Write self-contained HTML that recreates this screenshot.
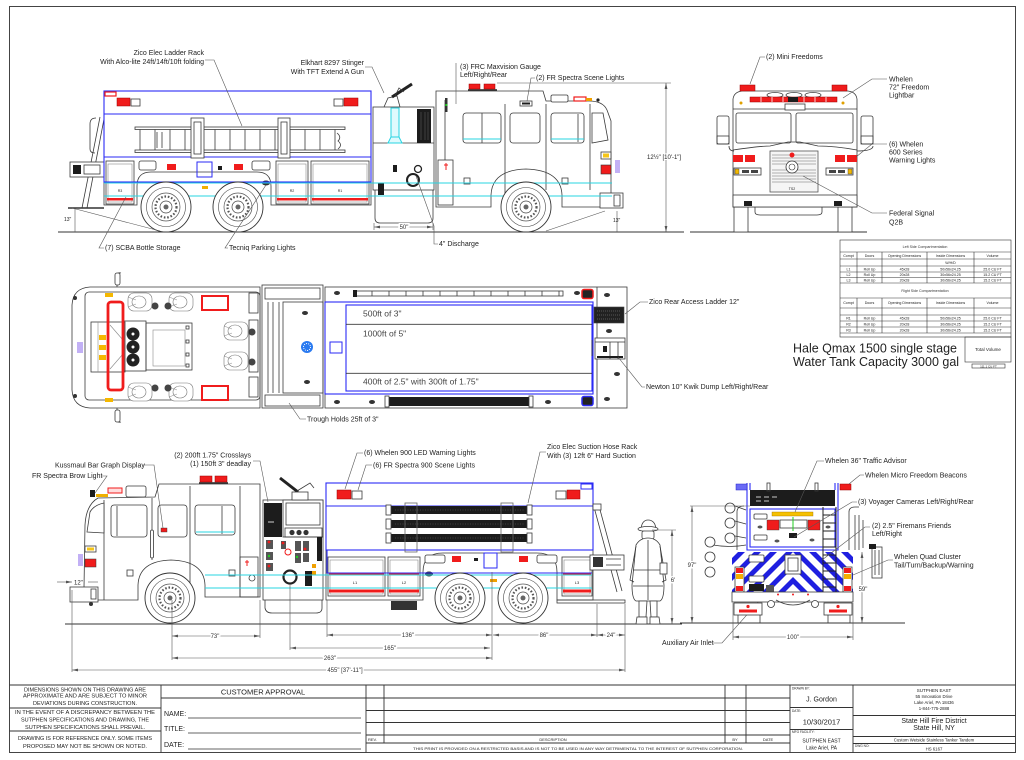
<!DOCTYPE html>
<html><head><meta charset="utf-8"><title>Custom Wetside Stainless Tanker Tandem</title>
<style>
html,body{margin:0;padding:0;background:#fff}
svg{display:block}
text{font-family:"Liberation Sans",Arial,sans-serif;fill:#222}
.k{fill:none;stroke:#3a3a3a;stroke-width:.8}
.w{fill:#fff;stroke:#3a3a3a;stroke-width:.8}
.g{fill:none;stroke:#8a8a8a;stroke-width:.6}
.bl{fill:none;stroke:#2a2af5;stroke-width:1.1}
.cy{fill:none;stroke:#27d4e2;stroke-width:1}
.ld{fill:none;stroke:#555;stroke-width:.6}
.dl{fill:none;stroke:#555;stroke-width:.6;marker-start:url(#ar);marker-end:url(#ar)}
.rd{fill:#f01c1c}
.rs{fill:none;stroke:#f01c1c;stroke-width:1.2}
.t{font-size:7px}
.bt{font-size:8.5px;fill:#444}
.dt{font-size:6px;fill:#333;paint-order:stroke;stroke:#fff;stroke-width:3px;text-anchor:middle}
.s{font-size:3.6px;fill:#333;text-anchor:middle}
.bk{fill:#1c1c1c}
.tb{font-size:5px;fill:#333;text-anchor:middle}
</style></head><body>
<svg width="1024" height="760" viewBox="0 0 1024 760" xmlns="http://www.w3.org/2000/svg" xmlns:xlink="http://www.w3.org/1999/xlink">
<defs>
<marker id="ar" markerWidth="6" markerHeight="4" refX="6" refY="2" orient="auto-start-reverse" markerUnits="userSpaceOnUse"><path d="M0,0.6 L6,2 L0,3.4 Z" fill="#555"/></marker>
<g id="wh"><circle r="25" fill="#fff" stroke="#333" stroke-width=".9"/><circle r="19.5" fill="none" stroke="#444" stroke-width=".6"/><circle r="14" fill="none" stroke="#555" stroke-width=".7"/><circle r="10.5" fill="none" stroke="#555" stroke-width="2.2" stroke-dasharray="1.6 1.8"/><circle r="6" fill="#fff" stroke="#444" stroke-width=".7"/><circle r="2.5" fill="#666"/></g>
<g id="st"><rect x="-12" y="-9" width="24" height="18" rx="6" fill="#fff" stroke="#777" stroke-width=".6"/><ellipse cx="-1" cy="0" rx="7" ry="6" fill="none" stroke="#777" stroke-width=".6"/><path d="M-12,-5 L-4,-2 M-12,5 L-4,2" stroke="#888" stroke-width=".5"/></g>
<clipPath id="cp"><rect x="732" y="552" width="121" height="40"/></clipPath>
</defs>

<!-- frame -->
<rect x="9.5" y="6.5" width="1006" height="746" fill="none" stroke="#444" stroke-width="1"/>

<!-- ================= TOP SIDE VIEW ================= -->
<line x1="58" y1="232" x2="684" y2="232" stroke="#333" stroke-width=".9"/>
<path class="k" d="M100,117 L82,208 M104,119 L87,208"/>
<path class="k" d="M96,118 Q90,118 90,124 V149 Q90,153 95,153"/>
<rect class="w" x="70" y="162" width="34" height="15"/>
<rect class="bk" x="73" y="165" width="8" height="9"/>
<rect class="k" x="84" y="165" width="16" height="9"/>
<line x1="68" y1="208" x2="104" y2="208" stroke="#333" stroke-width="1.6"/>

<rect class="w" x="104" y="91" width="267" height="66"/>
<path class="w" d="M104,157 V205 H137 V186 Q137,172 151,172 H257 Q271,172 271,186 V205 H371 V157 Z"/>
<rect class="w" x="106" y="161" width="28" height="43"/><rect class="g" x="108" y="164" width="24" height="38"/>
<rect class="w" x="276" y="161" width="32" height="43"/><rect class="g" x="278" y="164" width="28" height="38"/>
<rect class="w" x="311" y="161" width="58" height="43"/><rect class="g" x="313" y="164" width="54" height="38"/>
<rect class="rd" x="107" y="181.5" width="26" height="2"/><rect class="rd" x="107" y="198" width="26" height="2.5"/>
<rect class="rd" x="277" y="181.5" width="30" height="2"/><rect class="rd" x="277" y="198" width="30" height="2.5"/>
<rect class="rd" x="312" y="181.5" width="56" height="2"/><rect class="rd" x="312" y="198" width="56" height="2.5"/>
<text x="120" y="192" font-size="3.6" fill="#f01c1c" text-anchor="middle">R3</text>
<text x="292" y="192" font-size="3.6" fill="#f01c1c" text-anchor="middle">R2</text>
<text x="340" y="192" font-size="3.6" fill="#f01c1c" text-anchor="middle">R1</text>
<rect class="w" x="139" y="161" width="17" height="9" rx="2"/>
<rect class="rd" x="167" y="164" width="9" height="6"/>
<rect x="197" y="162" width="15" height="15" fill="none" stroke="#2a2af5" stroke-width="1"/>
<rect class="bk" x="218" y="166" width="4" height="4"/>
<rect class="rd" x="234" y="164" width="9" height="6"/>
<rect class="w" x="252" y="161" width="18" height="9" rx="2"/>
<rect x="202" y="186" width="6" height="3" fill="#f0b000"/>
<ellipse cx="266" cy="183" rx="4" ry="2.5" fill="#333"/>
<!-- tank blue -->
<rect class="bl" x="104" y="91" width="267" height="91"/>
<line class="bl" x1="104" y1="114" x2="371" y2="114"/>
<line class="bl" x1="104" y1="157" x2="371" y2="157"/>
<!-- tank lights -->
<rect x="105" y="92" width="11" height="4" class="rs"/>
<rect class="rd" x="117" y="98" width="13" height="8" stroke="#900" stroke-width=".5"/>
<rect class="w" x="131" y="99" width="9" height="7"/>
<rect class="w" x="334" y="99" width="9" height="7"/>
<rect class="rd" x="344" y="98" width="14" height="8" stroke="#900" stroke-width=".5"/>
<!-- ladder -->
<rect class="w" x="135" y="127" width="210" height="2.5"/>
<rect class="w" x="135" y="150" width="210" height="2.5"/>
<path class="k" d="M140,129.5V150M155,129.5V150M170,129.5V150M185,129.5V150M200,129.5V150M215,129.5V150M230,129.5V150M245,129.5V150M260,129.5V150M275,129.5V150M290,129.5V150M305,129.5V150M320,129.5V150M335,129.5V150"/>
<path class="k" d="M157,132 V148 M162,132 V148" stroke-width="1.4"/>
<path class="k" d="M337,133 Q342,137 338,141 Q343,145 338,149"/>
<rect class="w" x="191" y="118" width="13" height="40"/><rect class="k" x="194" y="122" width="7" height="32"/>
<rect class="w" x="278" y="118" width="12" height="40"/><rect class="k" x="281" y="122" width="6" height="32"/>
<!-- pump section -->
<rect class="w" x="373" y="107" width="61" height="83"/>
<line class="k" x1="373" y1="143" x2="434" y2="143"/>
<path class="k" d="M375,190 V218 Q375,223 380,223 H428 Q433,223 433,218 V190"/>
<rect x="391" y="108" width="8" height="30" fill="#dffafd" stroke="#27d4e2" stroke-width="1"/>
<path d="M388,143 L391,137 H399 L402,143 Z" fill="#dffafd" stroke="#27d4e2" stroke-width="1"/>
<rect class="bk" x="417" y="109" width="14" height="34"/>
<path d="M421,112V140M425,112V140M428,112V140" stroke="#666" stroke-width=".5"/>
<rect class="bk" x="393" y="165" width="4" height="7"/>
<circle cx="413" cy="180" r="6" fill="#fff" stroke="#222" stroke-width="2"/>
<circle cx="418" cy="169" r="3.5" fill="#fff" stroke="#222" stroke-width="1.3"/>
<rect class="bk" x="378" y="183" width="6" height="12"/>
<path d="M384,107 L388,98 L397,96 L400,107" class="k" stroke-width="1.2"/>
<line x1="392" y1="97" x2="412" y2="84" stroke="#222" stroke-width="3"/>
<path d="M395,96 L399,88 L404,92" class="k" stroke-width="1.2"/>
<!-- cab -->
<path class="w" d="M436,91 H543 L546,101 H589 Q603,101 607,110 L611,121 V207 H562 V195 Q561,170 526,169 Q492,170 491,195 V207 H436 Z"/>
<path class="k" d="M445,100 V205 M505,104 V205 M546,104 V190 M590,104 V190"/>
<rect class="w" x="463" y="113" width="38" height="30" rx="3"/><line class="k" x1="482" y1="113" x2="482" y2="143"/>
<rect class="w" x="510" y="113" width="30" height="30" rx="3"/>
<rect class="w" x="551" y="113" width="33" height="30" rx="3"/><line class="k" x1="578" y1="114" x2="578" y2="142"/>
<path class="w" d="M592,113 H603 L608,140 L592,143 Z"/>
<path class="cy" d="M463,139 H501 M551,139 H584"/>
<rect class="w" x="438" y="160" width="15" height="45"/>
<path d="M446,163 V170 M444,165 H448" stroke="#f01c1c" stroke-width="1"/>
<rect class="w" x="464" y="178" width="6" height="6"/>
<rect class="w" x="562" y="178" width="6" height="6"/>
<rect x="445" y="98" width="2.5" height="14" fill="#333"/><rect x="445.3" y="104" width="2" height="2" fill="#2c2"/>
<rect class="w" x="520" y="101" width="12" height="5"/><rect class="bk" x="522" y="102.5" width="8" height="2"/>
<path d="M468,90 H497" stroke="#222" stroke-width="1.5"/>
<rect class="rd" x="469" y="84" width="11" height="5" stroke="#900" stroke-width=".5"/>
<rect class="rd" x="484" y="84" width="11" height="5" stroke="#900" stroke-width=".5"/>
<rect class="w" x="551" y="95" width="17" height="7" rx="1.5"/>
<rect x="574" y="97" width="12" height="4" class="rs"/>
<rect x="586" y="98" width="6" height="3" fill="#f0a000"/>
<circle cx="598" cy="100" r="1.6" fill="#222"/>
<rect class="w" x="601" y="152" width="10" height="7"/><rect x="603" y="153.5" width="6" height="4" fill="#f5c518"/>
<rect class="rd" x="601" y="165" width="10" height="9" stroke="#333" stroke-width=".6"/>
<rect x="615" y="160" width="5" height="13" fill="#c2b0f5"/>
<rect class="w" x="600" y="193" width="23" height="15"/><rect class="k" x="614" y="195" width="6" height="11"/>
<!-- cyan lines -->
<path class="cy" d="M104,183 H612 M104,196 H612"/>
<use xlink:href="#wh" x="166" y="207"/>
<use xlink:href="#wh" x="238" y="207"/>
<use xlink:href="#wh" x="526" y="207"/>
<!-- angle lines & dims -->
<path class="ld" d="M72,208 L160,231 M605,211 L546,231"/>
<path class="ld" d="M75,208 V232 M617,211 V232"/>
<text x="64" y="221" font-size="5" fill="#333">13"</text>
<text x="613" y="222" font-size="5" fill="#333">13"</text>
<path class="ld" d="M374,223 V230 M433,223 V230"/>
<line class="dl" x1="374" y1="227" x2="433" y2="227"/>
<text class="dt" x="404" y="229">50"</text>
<path class="ld" d="M497,83 H671"/>
<line class="dl" x1="666" y1="83" x2="666" y2="232"/>
<text x="647" y="159" font-size="6" fill="#333" style="paint-order:stroke;stroke:#fff;stroke-width:2px">12½" [10'-1"]</text>
<!-- labels -->
<text class="t" x="204" y="55" text-anchor="end">Zico Elec Ladder Rack</text>
<text class="t" x="204" y="64" text-anchor="end">With Alco-lite 24ft/14ft/10ft folding</text>
<path class="ld" d="M205,60 H214 L242,126"/>
<text class="t" x="364" y="65" text-anchor="end">Elkhart 8297 Stinger</text>
<text class="t" x="364" y="74" text-anchor="end">With TFT Extend A Gun</text>
<path class="ld" d="M365,67 H372 L384,93"/>
<text class="t" x="460" y="69">(3) FRC Maxvision Gauge</text>
<text class="t" x="460" y="77">Left/Right/Rear</text>
<path class="ld" d="M456,63 V104"/>
<text class="t" x="536" y="80">(2) FR Spectra Scene Lights</text>
<path class="ld" d="M535,78 H531 L527,101"/>
<text class="t" x="105" y="250">(7) SCBA Bottle Storage</text>
<path class="ld" d="M104,248 H99 L126,197"/>
<text class="t" x="229" y="250">Tecniq Parking Lights</text>
<path class="ld" d="M228,248 H225 L266,185"/>
<text class="t" x="439" y="246">4" Discharge</text>
<path class="ld" d="M438,244 H434 V226 L416,176"/>

<!-- ================= FRONT VIEW ================= -->
<line x1="690" y1="232" x2="867" y2="232" stroke="#333" stroke-width=".9"/>
<rect class="w" x="734" y="207" width="14" height="25"/>
<rect class="w" x="838" y="207" width="14" height="25"/>
<path class="k" d="M755,207 V212 Q755,215 760,215 H817 Q822,215 822,212 V207"/>
<path class="w" d="M733,207 V99 Q734,92 742,91 H848 Q856,92 857,99 V207 Z"/>
<path class="k" d="M733,109 H857"/>
<rect class="w" x="736" y="113" width="55" height="30" rx="2"/>
<rect class="w" x="796" y="113" width="57" height="30" rx="2"/>
<rect class="w" x="785" y="104" width="20" height="6"/>
<rect class="w" x="717" y="116" width="12" height="28" rx="2"/><rect class="k" x="717" y="136" width="12" height="8"/>
<rect class="w" x="861" y="116" width="12" height="28" rx="2"/><rect class="k" x="861" y="136" width="12" height="8"/>
<path class="k" d="M729,146 Q729,151 734,151 M873,146 Q873,151 857,151"/>
<ellipse class="k" cx="775" cy="95" rx="8" ry="2.5"/><ellipse class="k" cx="794" cy="95" rx="8" ry="2.5"/><ellipse class="k" cx="813" cy="95" rx="8" ry="2.5"/>
<rect class="rd" x="750" y="97" width="87" height="5" stroke="#900" stroke-width=".5"/>
<path d="M761,97V102M772,97V102M783,97V102M804,97V102M815,97V102M826,97V102" stroke="#fff" stroke-width=".8"/>
<rect class="bk" x="788" y="97" width="10" height="5"/>
<rect class="rd" x="740" y="85" width="15" height="6" stroke="#900" stroke-width=".5"/>
<rect class="rd" x="832" y="85" width="15" height="6" stroke="#900" stroke-width=".5"/>
<circle cx="741" cy="103" r="1.5" fill="#e0a000"/><circle cx="843" cy="103" r="1.5" fill="#e0a000"/>
<path class="k" d="M733,150 Q760,146 770,146 L788,142 H800 L818,146 Q835,146 857,150"/>
<rect class="rd" x="733" y="155" width="10" height="7"/><rect class="rd" x="745" y="155" width="10" height="7"/>
<rect class="rd" x="835" y="155" width="10" height="7"/><rect class="rd" x="847" y="155" width="10" height="7"/>
<rect class="w" x="734" y="168" width="27" height="7"/><rect x="735" y="169" width="4" height="5" fill="#f2b800" stroke="#333" stroke-width=".4"/>
<rect x="742" y="170" width="7" height="3" fill="#444"/><rect x="751" y="170" width="7" height="3" fill="#444"/>
<rect class="w" x="826" y="168" width="27" height="7"/><rect x="848" y="169" width="4" height="5" fill="#f2b800" stroke="#333" stroke-width=".4"/>
<rect x="829" y="170" width="7" height="3" fill="#444"/><rect x="838" y="170" width="7" height="3" fill="#444"/>
<rect x="770" y="151" width="48" height="41" fill="#f5f5f5" stroke="#555" stroke-width=".8"/>
<path d="M772,155H816M772,158H816M772,161H816M772,164H816M772,170H816M772,173H816M772,176H816M772,179H816M772,182H816" stroke="#999" stroke-width=".8"/>
<circle cx="792" cy="167" r="6" fill="#fff" stroke="#333" stroke-width=".8"/><circle cx="792" cy="167" r="3" fill="none" stroke="#333" stroke-width=".6"/>
<circle cx="792" cy="155" r="2.5" fill="#f01c1c"/>
<text x="792" y="190" font-size="3.5" fill="#333" text-anchor="middle">TS2</text>
<rect class="w" x="733" y="195" width="124" height="12"/>
<rect class="bk" x="744" y="201" width="8" height="5"/><rect class="bk" x="834" y="201" width="8" height="5"/>
<text class="t" x="766" y="59">(2) Mini Freedoms</text>
<path class="ld" d="M765,57 H760 L750,84"/>
<text class="t" x="889" y="81.5">Whelen</text>
<text class="t" x="889" y="89.5">72" Freedom</text>
<text class="t" x="889" y="97.5">Lightbar</text>
<path class="ld" d="M887,79 H872 L843,98"/>
<text class="t" x="889" y="146.5">(6) Whelen</text>
<text class="t" x="889" y="154.5">600 Series</text>
<text class="t" x="889" y="162.5">Warning Lights</text>
<path class="ld" d="M887,144 H872 L856,157"/>
<text class="t" x="889" y="215.5">Federal Signal</text>
<text class="t" x="889" y="224.5">Q2B</text>
<path class="ld" d="M887,213 H872 L803,176"/>

<!-- ================= TABLE ================= -->
<g fill="none" stroke="#333" stroke-width=".6">
<rect x="840" y="240" width="171" height="97"/>
<path d="M840,252H1011M840,259H1011M840,266H1011M840,272H1011M840,277.5H1011M840,283H1011M840,298H1011M840,308H1011M840,315H1011M840,321H1011M840,327H1011M840,333H1011"/>
<path d="M857,252V283M882,252V283M927,252V283M974,252V283M857,298V333M882,298V333M927,298V333M974,298V333"/>
<rect x="965" y="337" width="46" height="25"/>
<rect x="972" y="364" width="33" height="4"/>
</g>
<text class="s" x="925" y="248" font-size="4.2">Left Side Compartmentation</text>
<text class="s" x="925" y="292" font-size="4.2">Right Side Compartmentation</text>
<g class="s">
<text x="848.5" y="257">Compt</text><text x="869.5" y="257">Doors</text><text x="904.5" y="257">Opening Dimensions</text><text x="950.5" y="257">Inside Dimensions</text><text x="992.5" y="257">Volume</text>
<text x="950.5" y="264">W/H/D</text>
<text x="848.5" y="270.5">L1</text><text x="869.5" y="270.5">Roll Up</text><text x="904.5" y="270.5">45x28</text><text x="950.5" y="270.5">50x56x24.25</text><text x="992.5" y="270.5">25.0 CU FT</text>
<text x="848.5" y="276">L2</text><text x="869.5" y="276">Roll Up</text><text x="904.5" y="276">20x28</text><text x="950.5" y="276">30x56x24.25</text><text x="992.5" y="276">15.2 CU FT</text>
<text x="848.5" y="281.5">L3</text><text x="869.5" y="281.5">Roll Up</text><text x="904.5" y="281.5">20x28</text><text x="950.5" y="281.5">30x56x24.25</text><text x="992.5" y="281.5">15.2 CU FT</text>
<text x="848.5" y="304">Compt</text><text x="869.5" y="304">Doors</text><text x="904.5" y="304">Opening Dimensions</text><text x="950.5" y="304">Inside Dimensions</text><text x="992.5" y="304">Volume</text>
<text x="848.5" y="319.5">R1</text><text x="869.5" y="319.5">Roll Up</text><text x="904.5" y="319.5">45x28</text><text x="950.5" y="319.5">50x56x24.25</text><text x="992.5" y="319.5">25.0 CU FT</text>
<text x="848.5" y="325.5">R2</text><text x="869.5" y="325.5">Roll Up</text><text x="904.5" y="325.5">20x28</text><text x="950.5" y="325.5">30x56x24.25</text><text x="992.5" y="325.5">15.2 CU FT</text>
<text x="848.5" y="331.5">R3</text><text x="869.5" y="331.5">Roll Up</text><text x="904.5" y="331.5">20x28</text><text x="950.5" y="331.5">30x56x24.25</text><text x="992.5" y="331.5">15.2 CU FT</text>
<text x="988" y="351" font-size="4.5">Total Volume</text>
<text x="988.5" y="367.3" font-size="3">111.1 CU FT</text>
</g>
<text x="793" y="352.5" font-size="12.5" fill="#444">Hale Qmax 1500 single stage</text>
<text x="793" y="366" font-size="12.5" fill="#444">Water Tank Capacity 3000 gal</text>

<!-- ================= PLAN VIEW ================= -->
<path class="w" d="M90,287 H260 V408 H90 Q73,407 72,390 V305 Q73,288 90,287 Z"/>
<rect class="k" x="85" y="292" width="175" height="108" rx="4"/>
<rect class="k" x="91" y="322" width="34" height="50"/>
<path class="g" d="M98,322 V372 M110,325 L123,340 M110,369 L123,354"/>
<path class="k" d="M117,287 V276 Q117,272 121,273 M117,408 V419 Q117,423 121,422"/>
<rect class="w" x="115" y="273" width="5" height="12" rx="2"/><rect class="w" x="115" y="410" width="5" height="12" rx="2"/>
<circle cx="75" cy="298" r="2" fill="#333"/><circle cx="75" cy="396" r="2" fill="#333"/>
<rect x="77" y="342" width="6" height="11" fill="#c2b0f5"/>
<rect x="105" y="293" width="8" height="4" fill="#f5b800"/><rect x="105" y="398" width="8" height="4" fill="#f5b800"/>
<rect x="99" y="335" width="7" height="5" fill="#f5b800"/><rect x="99" y="345" width="7" height="5" fill="#f5b800"/><rect x="99" y="355" width="7" height="5" fill="#f5b800"/>
<rect class="k" x="124" y="321" width="22" height="50"/>
<circle cx="133" cy="334" r="6.5" fill="#222"/><circle cx="133" cy="347" r="6.5" fill="#222"/><circle cx="133" cy="360" r="6.5" fill="#222"/>
<circle cx="133" cy="334" r="1.5" fill="#fff"/><circle cx="133" cy="347" r="1.5" fill="#fff"/><circle cx="133" cy="360" r="1.5" fill="#fff"/>
<rect x="108" y="302" width="15" height="88" rx="3" fill="none" stroke="#f01c1c" stroke-width="2.8"/>
<rect class="k" x="146" y="323" width="46" height="47"/>
<rect class="g" x="153" y="330" width="32" height="36"/>
<rect class="k" x="186" y="326" width="3" height="3"/><rect class="k" x="186" y="340" width="3" height="3"/><rect class="k" x="186" y="353" width="3" height="3"/><rect class="k" x="186" y="364" width="3" height="3"/>
<use xlink:href="#st" x="140" y="302"/>
<use xlink:href="#st" x="181" y="302"/>
<use xlink:href="#st" x="140" y="392"/>
<use xlink:href="#st" x="181" y="392"/>
<use xlink:href="#st" x="236" y="331"/>
<use xlink:href="#st" x="236" y="361"/>
<circle cx="155" cy="306" r="3.5" fill="#444"/><circle cx="168" cy="306" r="3.5" fill="#444"/>
<circle cx="155" cy="388" r="3.5" fill="#444"/><circle cx="168" cy="388" r="3.5" fill="#444"/>
<circle cx="252" cy="332" r="3.5" fill="#444"/><circle cx="252" cy="362" r="3.5" fill="#444"/>
<rect x="202" y="296" width="26" height="14" fill="none" stroke="#f01c1c" stroke-width="2"/>
<rect x="202" y="386" width="26" height="14" fill="none" stroke="#f01c1c" stroke-width="2"/>
<rect class="k" x="249" y="293" width="9" height="20"/><rect class="k" x="249" y="377" width="9" height="20"/>
<rect class="k" x="249" y="320" width="9" height="52"/>
<!-- pump -->
<rect class="w" x="262" y="285" width="61" height="123"/>
<rect class="k" x="265" y="288" width="55" height="11"/>
<rect class="k" x="265" y="395" width="55" height="11"/>
<rect class="k" x="283" y="302" width="40" height="91"/>
<path class="k" d="M268,302V393M273,302V393M279,302V393"/>
<circle cx="307" cy="347" r="6" fill="#2a7af0"/>
<circle cx="307" cy="347" r="3.5" fill="none" stroke="#fff" stroke-width="1" stroke-dasharray="1 1.2"/>
<ellipse cx="305" cy="313" rx="3" ry="2" fill="#333"/><ellipse cx="307" cy="382" rx="3" ry="2" fill="#333"/>
<!-- body -->
<rect class="w" x="325" y="287" width="302" height="121"/>
<line class="k" x1="597" y1="287" x2="597" y2="408"/>
<rect class="bl" x="325" y="302" width="268" height="92" stroke-width="1.4"/>
<rect class="bl" x="346" y="305" width="246" height="86"/>
<path class="k" d="M346,324.3H592M346,373.3H592" stroke="#222"/>
<rect x="330" y="342" width="12" height="11" fill="none" stroke="#2a2af5" stroke-width="1"/>
<text class="bt" x="363" y="316.5">500ft of 3"</text>
<text class="bt" x="363" y="336.5">1000ft of 5"</text>
<text class="bt" x="363" y="384.5">400ft of 2.5" with 300ft of 1.75"</text>
<rect class="w" x="355" y="291" width="208" height="5"/>
<path class="k" d="M372,291V296M389,291V296M406,291V296M423,291V296M440,291V296M457,291V296M474,291V296M491,291V296M508,291V296M525,291V296M542,291V296M559,291V296"/>
<rect class="bk" x="353" y="290" width="4" height="7"/>
<rect x="582" y="289.5" width="11" height="9" rx="2" fill="#222" stroke="#f01c1c" stroke-width="1.5"/>
<rect class="bk" x="388" y="397" width="142" height="9"/>
<rect class="w" x="385" y="396" width="4" height="11"/><rect class="w" x="529" y="396" width="4" height="11"/>
<rect x="582" y="396.5" width="11" height="9" rx="2" fill="#222" stroke="#2a2af5" stroke-width="1.5"/>
<g fill="#333"><ellipse cx="337" cy="293" rx="3" ry="2"/><ellipse cx="577" cy="293" rx="3" ry="2"/><ellipse cx="337" cy="402" rx="3" ry="2"/><ellipse cx="372" cy="402" rx="3" ry="2"/><ellipse cx="548" cy="402" rx="3" ry="2"/><ellipse cx="607" cy="295" rx="3" ry="2"/><ellipse cx="609" cy="331" rx="3" ry="2"/><ellipse cx="617" cy="374" rx="3" ry="2"/><ellipse cx="607" cy="399" rx="3" ry="2"/></g>
<rect x="594" y="307" width="30" height="16" fill="#222" stroke="#444" stroke-width=".6"/>
<path d="M597,311H621M597,315H621M597,319H621" stroke="#888" stroke-width=".6" stroke-dasharray="1 1"/>
<rect class="w" x="595" y="338" width="30" height="21"/>
<path class="k" d="M595,342H625M610,342V359M618,342V359M592,340V356"/>
<rect class="bk" x="603" y="346" width="4" height="6"/><rect class="bk" x="597" y="356" width="26" height="2"/>
<text class="t" x="649" y="304">Zico Rear Access Ladder 12"</text>
<path class="ld" d="M648,302 H640 L625,314"/>
<text class="t" x="646" y="389">Newton 10" Kwik Dump Left/Right/Rear</text>
<path class="ld" d="M645,387 H642 L618,357"/>
<text class="t" x="307" y="421.5">Trough Holds 25ft of 3"</text>
<path class="ld" d="M306,419 H300 L289,403"/>

<!-- ================= BOTTOM SIDE VIEW ================= -->
<line x1="65" y1="624" x2="682" y2="624" stroke="#333" stroke-width=".9"/>
<path class="w" d="M86,600 L84,588 L85,525 Q86,505 98,498 L155,497 L159,484 H260 V597 H205 V585 Q204,561 171,560 Q139,561 138,585 V600 Z"/>
<path class="k" d="M104,500 V600 M152,498 V560 M190,486 V597 M240,486 V597"/>
<rect class="w" x="126" y="486" width="20" height="11" rx="2"/>
<rect x="108" y="488" width="14" height="5" fill="#fdd" stroke="#f01c1c" stroke-width="1"/>
<rect x="96" y="494" width="12" height="3" fill="#f0b000"/>
<rect class="bk" x="90" y="490" width="5" height="7"/>
<path d="M199,483 H228" stroke="#222" stroke-width="1.5"/>
<rect class="rd" x="200" y="476" width="12" height="6" stroke="#900" stroke-width=".5"/>
<rect class="rd" x="215" y="476" width="12" height="6" stroke="#900" stroke-width=".5"/>
<path class="w" d="M87,532 L90,512 Q94,505 104,503 V533 Z"/>
<rect class="w" x="111" y="505" width="36" height="32" rx="3"/><line class="k" x1="117" y1="506" x2="117" y2="536"/>
<rect class="w" x="158" y="505" width="29" height="32" rx="3"/>
<rect class="rd" x="161" y="528" width="6" height="4" stroke="#333" stroke-width=".4"/>
<rect class="w" x="195" y="505" width="40" height="30" rx="3"/><line class="k" x1="222" y1="506" x2="222" y2="534"/>
<path class="cy" d="M196,532 H234"/>
<rect class="w" x="150.5" y="530" width="3" height="28" rx="1.5"/>
<rect class="k" x="240" y="557" width="18" height="40"/>
<path d="M247,560 V566 M245,562 H249" stroke="#f01c1c" stroke-width="1"/>
<rect class="w" x="127" y="570" width="6" height="6"/>
<rect class="w" x="229" y="570" width="6" height="6"/>
<circle class="w" cx="252" cy="578" r="3"/>
<rect class="w" x="85" y="546" width="11" height="6"/><rect x="87" y="547.5" width="7" height="3" fill="#f5c518"/>
<rect class="rd" x="85" y="559" width="11" height="8" stroke="#333" stroke-width=".5"/>
<rect x="78" y="554" width="5" height="12" fill="#c2b0f5"/>
<rect class="w" x="70" y="587" width="28" height="15"/><rect class="k" x="91" y="589" width="5" height="10"/>
<circle cx="91" cy="604" r="2" fill="#333"/>
<!-- pump -->
<rect class="w" x="263" y="500" width="60" height="100"/>
<rect class="bk" x="264" y="503" width="18" height="34"/>
<path d="M268,522H274" stroke="#fff" stroke-width=".8"/>
<rect class="w" x="283" y="500" width="40" height="37"/>
<rect class="k" x="286" y="503" width="34" height="22"/>
<rect class="k" x="285" y="528" width="37" height="9"/>
<circle cx="292" cy="532.5" r="2.6" fill="#333"/><circle cx="299" cy="532.5" r="2.6" fill="#333"/><circle cx="306" cy="532.5" r="2.6" fill="#333"/>
<g fill="#555"><rect x="266" y="540" width="7" height="9"/><rect x="266" y="552" width="7" height="8"/><rect x="266" y="563" width="7" height="8"/><rect x="281" y="541" width="5" height="8"/><rect x="295" y="541" width="6" height="10"/><rect x="295" y="553" width="6" height="10"/><rect x="303" y="541" width="6" height="10"/><rect x="303" y="553" width="6" height="9"/></g>
<g fill="#f01c1c"><circle cx="269" cy="542" r="1.4"/><circle cx="269" cy="566" r="1.4"/><circle cx="283" cy="543" r="1.4"/><circle cx="305" cy="549" r="1.4"/></g>
<circle cx="288" cy="552" r="3" fill="none" stroke="#f01c1c" stroke-width="1"/>
<circle cx="269" cy="556" r="1.2" fill="#2c2"/><circle cx="297" cy="557" r="1.2" fill="#2c2"/>
<circle cx="290" cy="577" r="6.5" fill="#fff" stroke="#222" stroke-width="2.2"/>
<rect class="bk" x="305" y="571" width="7" height="15"/>
<rect class="bk" x="317" y="537" width="5" height="24"/>
<rect x="312" y="564" width="4" height="4" fill="#f0a000"/><rect x="312" y="571" width="4" height="4" fill="#f0a000"/>
<path class="k" d="M265,600 V608 Q266,613 272,613 H316 Q322,613 322,608 V600"/>
<line x1="280" y1="478" x2="298" y2="492" stroke="#222" stroke-width="3"/>
<path class="k" d="M297,491 L310,483 L314,488" stroke-width="1.2"/>
<rect class="w" x="292" y="492" width="16" height="8"/>
<!-- tank -->
<rect class="w" x="326" y="483" width="267" height="67"/>
<path class="w" d="M326,550 V600 H423 V572 Q423,553 443,553 H537 Q557,553 557,572 V600 H593 V550 Z"/>
<rect class="w" x="328" y="557" width="57" height="39"/><rect class="g" x="330" y="560" width="53" height="34"/>
<rect class="w" x="388" y="557" width="32" height="39"/><rect class="g" x="390" y="560" width="28" height="34"/>
<rect class="w" x="562" y="557" width="30" height="39"/><rect class="g" x="564" y="560" width="26" height="34"/>
<rect class="rd" x="329" y="573.5" width="55" height="2"/><rect class="rd" x="329" y="589.5" width="55" height="3"/>
<rect class="rd" x="389" y="573.5" width="30" height="2"/><rect class="rd" x="389" y="589.5" width="30" height="3"/>
<rect class="rd" x="563" y="573.5" width="28" height="2"/><rect class="rd" x="563" y="589.5" width="28" height="3"/>
<text x="355" y="584" font-size="4" fill="#f01c1c" text-anchor="middle">L1</text>
<text x="404" y="584" font-size="4" fill="#f01c1c" text-anchor="middle">L2</text>
<text x="577" y="584" font-size="4" fill="#f01c1c" text-anchor="middle">L3</text>
<rect class="w" x="425" y="555" width="20" height="8" rx="2"/>
<rect class="rd" x="452" y="556" width="9" height="6"/>
<rect class="bk" x="474" y="558" width="4" height="3"/>
<rect x="484" y="553" width="13" height="15" fill="none" stroke="#2a2af5" stroke-width="1"/>
<rect class="rd" x="519" y="556" width="9" height="6"/>
<rect class="w" x="537" y="555" width="20" height="8" rx="2"/>
<rect x="490" y="579" width="7" height="3" fill="#f0a000"/>
<ellipse cx="429" cy="574" rx="4" ry="2.5" fill="#333"/>
<rect class="bl" x="326" y="483" width="267" height="67"/>
<line class="bl" x1="326" y1="506" x2="593" y2="506"/>
<path class="bl" d="M327,550 V573 H592"/>
<path class="cy" d="M205,575 H592 M205,588 H592"/>
<rect x="391" y="601" width="26" height="9" fill="#333"/>
<use xlink:href="#wh" x="170" y="598"/>
<use xlink:href="#wh" x="460" y="598"/>
<use xlink:href="#wh" x="523" y="598"/>
<!-- hose rack -->
<rect class="bk" x="389" y="506" width="140" height="8"/>
<rect class="bk" x="389" y="520" width="140" height="8"/>
<rect class="bk" x="389" y="534" width="140" height="8"/>
<path d="M395,510H525M395,524H525M395,538H525" stroke="#666" stroke-width=".6" stroke-dasharray="1 1.5"/>
<rect class="w" x="386" y="505" width="5" height="10"/><rect class="w" x="527" y="505" width="5" height="10"/>
<rect class="w" x="386" y="519" width="5" height="10"/><rect class="w" x="527" y="519" width="5" height="10"/>
<rect class="w" x="386" y="533" width="5" height="10"/><rect class="w" x="527" y="533" width="5" height="10"/>
<rect x="405" y="503" width="12" height="49" fill="none" stroke="#666" stroke-width=".8"/>
<rect x="501" y="503" width="12" height="49" fill="none" stroke="#666" stroke-width=".8"/>
<rect class="rd" x="337" y="490" width="14" height="9" stroke="#900" stroke-width=".5"/>
<rect class="w" x="352" y="491" width="10" height="8"/>
<rect class="w" x="556" y="491" width="10" height="8"/>
<rect class="rd" x="567" y="490" width="13" height="9" stroke="#900" stroke-width=".5"/>
<rect x="581" y="484" width="11" height="5" fill="none" stroke="#2a2af5" stroke-width="1"/>
<path class="k" d="M594,507 L617,592 M599,506 L622,591"/>
<rect class="w" x="593" y="504" width="8" height="6"/>
<rect class="w" x="590" y="555" width="34" height="15"/>
<rect x="593" y="557" width="10" height="10" fill="#333"/>
<path class="k" d="M606,559H621M606,565H621"/>
<rect class="k" x="557" y="600" width="68" height="3"/>
<!-- firefighter -->
<path class="w" d="M641,529 Q642,520 648,520 Q655,520 656,529 Z"/>
<ellipse class="w" cx="648" cy="529" rx="10" ry="2.5"/>
<rect class="w" x="642" y="531" width="12" height="8" rx="2"/>
<path class="w" d="M636,545 Q640,538 648,538 Q656,538 660,545 L664,585 Q664,599 660,601 H636 Q632,599 632,585 Z"/>
<path class="k" d="M636,546 L630,580 L634,582 M660,546 L666,580 L662,582 M648,540 V600 M633,570 H663 M633,586 H663"/>
<rect class="w" x="660" y="563" width="7" height="11"/>
<path class="w" d="M639,601 L639,617 H646 L647,601 Z M650,601 L651,617 H657 L657,601 Z"/>
<path class="w" d="M637,617 H647 V624 H636 Z M650,617 H659 L660,624 H650 Z"/>
<path class="ld" d="M652,530 H676"/>
<line class="dl" x1="672" y1="530" x2="672" y2="624"/>
<text class="dt" x="673" y="582">6'</text>
<!-- dims -->
<path class="ld" d="M72,590 V672 M172,600 V660 M260,600 V638 M290,584 V650 M327,600 V637 M492,572 V660 M597,604 V637 M625,604 V672"/>
<path class="ld" d="M57,582 H72" marker-end="url(#ar)"/>
<path class="ld" d="M88,582 H98"/>
<text x="74" y="584.5" font-size="6" fill="#333">12"</text>
<line class="dl" x1="172" y1="636" x2="260" y2="636"/>
<text class="dt" x="215" y="638">73"</text>
<line class="dl" x1="327" y1="635" x2="492" y2="635"/>
<text class="dt" x="408" y="637">136"</text>
<line class="dl" x1="493" y1="635" x2="597" y2="635"/>
<text class="dt" x="544" y="637">86"</text>
<line class="dl" x1="597" y1="635" x2="625" y2="635"/>
<text class="dt" x="611" y="637">24"</text>
<line class="dl" x1="290" y1="648" x2="490" y2="648"/>
<text class="dt" x="390" y="650">165"</text>
<line class="dl" x1="172" y1="658" x2="492" y2="658"/>
<text class="dt" x="330" y="660">263"</text>
<line class="dl" x1="72" y1="670" x2="625" y2="670"/>
<text class="dt" x="345" y="672">455" [37'-11"]</text>
<!-- labels -->
<text class="t" x="251" y="457.5" text-anchor="end">(2) 200ft 1.75" Crosslays</text>
<text class="t" x="251" y="466" text-anchor="end">(1) 150ft 3" deadlay</text>
<path class="ld" d="M253,461 H260 L268,502"/>
<text class="t" x="55" y="467.5">Kussmaul Bar Graph Display</text>
<path class="ld" d="M143,465 H154 L163,528"/>
<text class="t" x="32" y="478">FR Spectra Brow Light</text>
<path class="ld" d="M101,476 H107 L95,493"/>
<text class="t" x="364" y="455">(6) Whelen 900 LED Warning Lights</text>
<path class="ld" d="M363,453 H357 L345,489"/>
<text class="t" x="373" y="467.5">(6) FR Spectra 900 Scene Lights</text>
<path class="ld" d="M372,465 H366 L358,490"/>
<text class="t" x="547" y="449">Zico Elec Suction Hose Rack</text>
<text class="t" x="547" y="458">With (3) 12ft 6" Hard Suction</text>
<path class="ld" d="M546,452 H540 L528,503"/>
<text class="t" x="662" y="645">Auxiliary Air Inlet</text>
<path class="ld" d="M713,643 H722 L767,592"/>

<!-- ================= REAR VIEW ================= -->
<line x1="680" y1="623" x2="905" y2="623" stroke="#333" stroke-width=".9"/>
<path class="k" d="M738,615V623M760,615V623M828,615V623M850,615V623"/>
<rect class="bk" x="750" y="490" width="85" height="16"/>
<path d="M756,497H761M764,497H769M772,497H777M756,501H761M764,501H769" stroke="#fff" stroke-width=".8"/>
<rect class="k" x="767" y="483" width="3" height="8"/><rect class="k" x="815" y="483" width="3" height="8"/>
<path d="M747,483 V550 H838 V483 M750,483 V490 M835,483 V490" fill="none" stroke="#2a2af5" stroke-width="1.1"/>
<rect x="750" y="509" width="85" height="38" fill="#fff" stroke="#2a2af5" stroke-width="1.1"/>
<rect x="772" y="512" width="41" height="4" fill="#f5c000" stroke="#a07000" stroke-width=".4"/>
<rect class="rd" x="767" y="520" width="12" height="10" stroke="#333" stroke-width=".4"/>
<rect class="rd" x="808" y="520" width="12" height="10" stroke="#333" stroke-width=".4"/>
<rect class="w" x="780" y="520" width="27" height="8"/>
<path d="M793,517 V531" stroke="#2c2" stroke-width="1"/>
<rect class="bk" x="789" y="533" width="8" height="5"/>
<rect class="w" x="754" y="514" width="13" height="5" rx="1"/><rect class="w" x="754" y="535" width="13" height="5" rx="1"/>
<g fill="#555"><ellipse cx="760" cy="527" rx="2.5" ry="1.5"/><ellipse cx="777" cy="541" rx="2.5" ry="1.5"/><ellipse cx="812" cy="540" rx="2.5" ry="1.5"/><ellipse cx="828" cy="527" rx="2.5" ry="1.5"/></g>
<rect x="732" y="552" width="121" height="40" fill="#1f1fe0"/>
<g clip-path="url(#cp)" fill="#fff">
<polygon points="713,568 793,488 873,568 873,577 793,497 713,577"/>
<polygon points="713,584 793,504 873,584 873,593 793,513 713,593"/>
<polygon points="713,600 793,520 873,600 873,609 793,529 713,609"/>
<polygon points="713,616 793,536 873,616 873,625 793,545 713,625"/>
<polygon points="713,632 793,552 873,632 873,641 793,561 713,641"/>
<polygon points="713,648 793,568 873,648 873,657 793,577 713,657"/>
<polygon points="713,664 793,584 873,664 873,673 793,593 713,673"/>
</g>
<rect class="w" x="749" y="555" width="15" height="7" rx="1"/>
<rect class="w" x="749" y="576" width="15" height="6" rx="1"/>
<rect class="bk" x="749" y="584" width="15" height="7"/>
<rect class="w" x="785" y="555" width="16" height="19"/><rect class="k" x="788" y="558" width="10" height="13"/>
<rect class="w" x="735" y="567" width="9" height="25"/>
<rect class="rd" x="736" y="568" width="7" height="5"/><rect x="736" y="574" width="7" height="5" fill="#f5b000"/><rect class="rd" x="736" y="586" width="7" height="5"/>
<rect class="w" x="843" y="567" width="9" height="25"/>
<rect class="rd" x="844" y="568" width="7" height="5"/><rect x="844" y="574" width="7" height="5" fill="#f5b000"/><rect class="rd" x="844" y="586" width="7" height="5"/>
<path d="M823,507V592M836,507V592M823,515H836M823,523H836M823,531H836M823,539H836M823,547H836M823,555H836M823,563H836M823,571H836M823,579H836M823,587H836" stroke="#222" stroke-width="1"/>
<rect x="766" y="585" width="8" height="8" fill="#555"/>
<rect class="w" x="732" y="592" width="121" height="10"/>
<g fill="#f01c1c"><circle cx="778" cy="594.5" r="1"/><circle cx="793" cy="594.5" r="1"/><circle cx="808" cy="594.5" r="1"/></g>
<path class="k" d="M776,600 Q793,610 810,600"/>
<circle class="w" cx="771" cy="604" r="3.5"/><circle class="w" cx="815" cy="604" r="3.5"/>
<rect class="w" x="734" y="603" width="28" height="12"/>
<circle cx="748" cy="606.5" r="1.6" fill="#f01c1c"/><rect class="rd" x="739" y="609.5" width="18" height="3"/>
<rect class="w" x="824" y="603" width="28" height="12"/>
<circle cx="838" cy="606.5" r="1.6" fill="#f01c1c"/><rect class="rd" x="829" y="609.5" width="18" height="3"/>
<path class="k" d="M737,550 V512 Q737,506 744,506" stroke-width="1.8"/>
<path class="k" d="M735,506 L746,510 M735,521 L746,524 M735,536 L746,538 M713,545 Q730,548 746,545"/>
<circle class="w" cx="730" cy="508" r="5"/><circle class="w" cx="730" cy="523" r="5"/><circle class="w" cx="730" cy="538" r="5"/>
<circle class="w" cx="710" cy="542" r="5"/><circle class="w" cx="710" cy="557" r="5"/><circle class="w" cx="710" cy="572" r="5"/>
<path class="k" d="M849,550 V512 Q849,507 855,507 H859" stroke-width="1.8"/>
<path class="k" d="M855,515V550M859,515V550M863,520V548"/>
<rect class="w" x="872" y="547" width="10" height="31"/>
<path class="k" d="M875,550V575M879,550V575"/>
<rect class="bk" x="869" y="544" width="7" height="5"/>
<rect x="736" y="484" width="11" height="6" fill="#6a6af5" stroke="#22c" stroke-width=".5"/>
<rect class="rd" x="840" y="484" width="11" height="6" stroke="#900" stroke-width=".5"/>
<path class="ld" d="M690,506 H750"/>
<line class="dl" x1="692" y1="506" x2="692" y2="623"/>
<text class="dt" x="692" y="567">97"</text>
<line class="dl" x1="862" y1="552" x2="862" y2="623"/>
<text class="dt" x="863" y="591">59"</text>
<path class="ld" d="M733,603 V640 M853,603 V640"/>
<line class="dl" x1="733" y1="637" x2="853" y2="637"/>
<text class="dt" x="793" y="639">100"</text>
<text class="t" x="825" y="463">Whelen 36" Traffic Advisor</text>
<path class="ld" d="M824,461 H817 L795,512"/>
<text class="t" x="865" y="477.5">Whelen Micro Freedom Beacons</text>
<path class="ld" d="M864,475 H860 L849,484"/>
<text class="t" x="858" y="504">(3) Voyager Cameras Left/Right/Rear</text>
<path class="ld" d="M857,502 H852 L794,537"/>
<text class="t" x="872" y="528">(2) 2.5" Firemans Friends</text>
<text class="t" x="872" y="536">Left/Right</text>
<path class="ld" d="M870,527 H865 L822,560"/>
<text class="t" x="894" y="559">Whelen Quad Cluster</text>
<text class="t" x="894" y="567.5">Tail/Turn/Backup/Warning</text>
<path class="ld" d="M893,560 H888 L853,575"/>

<!-- ================= TITLE BLOCK ================= -->
<g stroke="#333" stroke-width=".9" fill="none">
<line x1="9.5" y1="685" x2="1015.5" y2="685"/>
<line x1="161" y1="685" x2="161" y2="752.5"/>
<line x1="366" y1="685" x2="366" y2="752.5"/>
<line x1="9.5" y1="708" x2="161" y2="708"/>
<line x1="9.5" y1="731" x2="161" y2="731"/>
<line x1="161" y1="698" x2="366" y2="698"/>
<path d="M366,698H790M366,710.5H790M366,722.5H790M366,735H790M366,743H790"/>
<path d="M384,685V743M725,685V743M746,685V743M790,685V752.5M853,685V752.5"/>
<path d="M790,707.5H853M790,729.5H853M853,715.5H1015.5M853,736.5H1015.5M853,743.5H1015.5"/>
<path d="M188,718H361M188,733H361M188,749H361" stroke-width=".7"/>
</g>
<g class="tb">
<text x="85" y="691.5" textLength="122" lengthAdjust="spacingAndGlyphs">DIMENSIONS SHOWN ON THIS DRAWING ARE</text>
<text x="85" y="697.5" textLength="124" lengthAdjust="spacingAndGlyphs">APPROXIMATE AND ARE SUBJECT TO MINOR</text>
<text x="85" y="705" textLength="104" lengthAdjust="spacingAndGlyphs">DEVIATIONS DURING CONSTRUCTION.</text>
<text x="85" y="714" textLength="140" lengthAdjust="spacingAndGlyphs">IN THE EVENT OF A DISCREPANCY BETWEEN THE</text>
<text x="85" y="721.5" textLength="128" lengthAdjust="spacingAndGlyphs">SUTPHEN SPECIFICATIONS AND DRAWING, THE</text>
<text x="85" y="729" textLength="120" lengthAdjust="spacingAndGlyphs">SUTPHEN SPECIFICATIONS SHALL PREVAIL.</text>
<text x="85" y="740" textLength="134" lengthAdjust="spacingAndGlyphs">DRAWING IS FOR REFERENCE ONLY. SOME ITEMS</text>
<text x="85" y="748" textLength="124" lengthAdjust="spacingAndGlyphs">PROPOSED MAY NOT BE SHOWN OR NOTED.</text>
</g>
<text x="263" y="694.5" font-size="7.5" fill="#222" text-anchor="middle">CUSTOMER APPROVAL</text>
<text x="164" y="716" font-size="7" fill="#222">NAME:</text>
<text x="164" y="731" font-size="7" fill="#222">TITLE:</text>
<text x="164" y="747" font-size="7" fill="#222">DATE:</text>
<text x="368" y="741" font-size="4" fill="#333">REV.</text>
<text x="553" y="741" font-size="4" fill="#333" text-anchor="middle">DESCRIPTION</text>
<text x="735" y="741" font-size="4" fill="#333" text-anchor="middle">BY</text>
<text x="768" y="741" font-size="4" fill="#333" text-anchor="middle">DATE</text>
<text x="578" y="750" font-size="3.6" fill="#333" text-anchor="middle" textLength="330" lengthAdjust="spacingAndGlyphs">THIS PRINT IS PROVIDED ON A RESTRICTED BASIS AND IS NOT TO BE USED IN ANY WAY DETRIMENTAL TO THE INTEREST OF SUTPHEN CORPORATION.</text>
<text x="792" y="689.5" font-size="3.2" fill="#333">DRAWN BY:</text>
<text x="821.5" y="701.5" font-size="7" fill="#222" text-anchor="middle">J. Gordon</text>
<text x="792" y="712" font-size="3.2" fill="#333">DATE:</text>
<text x="821.5" y="724.5" font-size="7.5" fill="#222" text-anchor="middle">10/30/2017</text>
<text x="792" y="733" font-size="3.2" fill="#333">MFG FACILITY:</text>
<text x="821.5" y="742.5" font-size="5" fill="#333" text-anchor="middle">SUTPHEN EAST</text>
<text x="821.5" y="749.5" font-size="5" fill="#333" text-anchor="middle">Lake Ariel, PA</text>
<text x="934" y="692" font-size="4.5" fill="#f01c1c" text-anchor="middle">SUTPHEN EAST</text>
<text x="934" y="698" font-size="4.3" fill="#333" text-anchor="middle">55 Innovation Drive</text>
<text x="934" y="704" font-size="4.3" fill="#333" text-anchor="middle">Lake Ariel, PA 18436</text>
<text x="934" y="710" font-size="4.3" fill="#333" text-anchor="middle">1-844-775-2888</text>
<text x="934" y="723" font-size="7" fill="#222" text-anchor="middle">State Hill Fire District</text>
<text x="934" y="730" font-size="7" fill="#222" text-anchor="middle">State Hill, NY</text>
<text x="934" y="741.5" font-size="4.3" fill="#333" text-anchor="middle">Custom Wetside Stainless Tanker Tandem</text>
<text x="855" y="747" font-size="3.2" fill="#333">DWG NO:</text>
<text x="934" y="750.5" font-size="4.3" fill="#333" text-anchor="middle">HS 6167</text>
</svg>
</body></html>
